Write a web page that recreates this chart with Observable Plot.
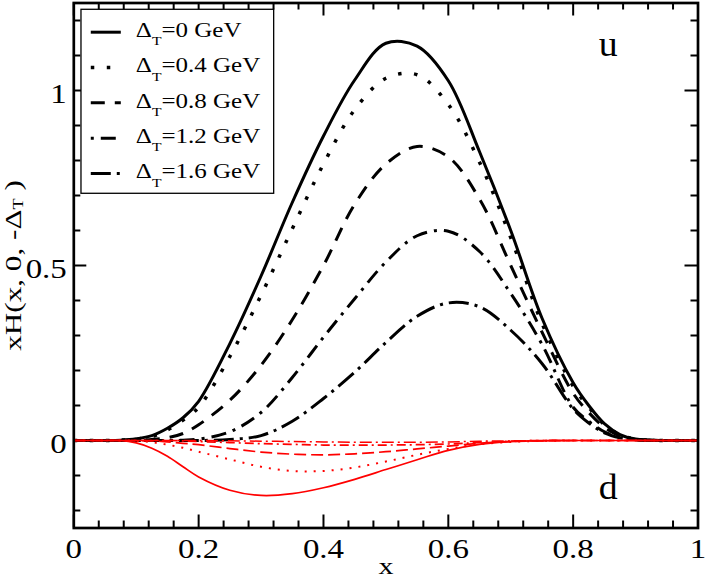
<!DOCTYPE html>
<html><head><meta charset="utf-8">
<script src="https://cdn.jsdelivr.net/npm/d3@7"></script>
<script src="https://cdn.jsdelivr.net/npm/@observablehq/plot@0.6"></script>
<style>body{margin:0;background:#fff} #chart svg{display:block}</style>
</head><body><div id="chart"></div>
<script>
// ---- data ----
const xs  = [0, 0.05, 0.075, 0.1, 0.125, 0.15, 0.175, 0.2, 0.25, 0.3, 0.35, 0.4, 0.45, 0.5, 0.55, 0.6, 0.65, 0.7, 0.75, 0.8, 0.825, 0.85, 0.875, 0.9, 0.95, 1];
// u quark
const u0  = [0, 0, 0.001, 0.005, 0.014, 0.035, 0.065, 0.112, 0.277, 0.47, 0.68, 0.87, 1.03, 1.135, 1.127, 1.028, 0.825, 0.60, 0.35, 0.165, 0.1, 0.048, 0.017, 0.004, 0, 0];
const u04 = [0, 0, 0.001, 0.004, 0.011, 0.03, 0.058, 0.095, 0.24, 0.415, 0.605, 0.79, 0.945, 1.035, 1.045, 0.96, 0.795, 0.58, 0.335, 0.155, 0.095, 0.045, 0.016, 0.004, 0, 0];
const u08 = [0, 0, 0, 0.001, 0.003, 0.008, 0.02, 0.045, 0.115, 0.215, 0.345, 0.50, 0.675, 0.79, 0.84, 0.81, 0.69, 0.50, 0.31, 0.135, 0.08, 0.038, 0.013, 0.003, 0, 0];
const u12 = [0, 0, 0, 0, 0, 0, 0.001, 0.004, 0.025, 0.08, 0.18, 0.295, 0.405, 0.51, 0.585, 0.598, 0.54, 0.42, 0.275, 0.095, 0.055, 0.025, 0.009, 0.002, 0, 0];
const u16 = [0, 0, 0, 0, 0, 0, 0, 0, 0.003, 0.014, 0.055, 0.12, 0.195, 0.28, 0.355, 0.393, 0.382, 0.315, 0.22, 0.09, 0.05, 0.022, 0.008, 0.002, 0, 0];
// d quark
const d0  = [0, 0, 0, -0.007, -0.022, -0.045, -0.075, -0.104, -0.142, -0.157, -0.152, -0.135, -0.111, -0.083, -0.055, -0.028, -0.011, -0.003, -0.001, 0, 0, 0, 0, 0, 0, 0];
const d04 = [0, 0, 0, -0.001, -0.005, -0.012, -0.021, -0.032, -0.054, -0.075, -0.087, -0.087, -0.077, -0.06, -0.041, -0.024, -0.011, -0.004, -0.001, 0, 0, 0, 0, 0, 0, 0];
const d08 = [0, 0, 0, 0, -0.001, -0.004, -0.008, -0.012, -0.023, -0.033, -0.039, -0.041, -0.038, -0.032, -0.024, -0.016, -0.008, -0.003, -0.001, 0, 0, 0, 0, 0, 0, 0];
const d12 = [0, 0, 0, 0, 0, 0, -0.001, -0.003, -0.006, -0.009, -0.011, -0.013, -0.013, -0.013, -0.012, -0.01, -0.006, -0.002, 0, 0, 0, 0, 0, 0, 0, 0];
const d16 = [0, 0, 0, 0, 0, 0, 0, 0, -0.001, -0.002, -0.003, -0.004, -0.005, -0.005, -0.005, -0.004, -0.002, -0.001, 0, 0, 0, 0, 0, 0, 0, 0];

const deltas = ["0", "0.4", "0.8", "1.2", "1.6"];
const xTicks = [0, 0.2, 0.4, 0.6, 0.8, 1];
const xMinor = [0.04, 0.08, 0.12, 0.16, 0.24, 0.28, 0.32, 0.36, 0.44, 0.48, 0.52, 0.56, 0.64, 0.68, 0.72, 0.76, 0.84, 0.88, 0.92, 0.96];
const yTicks = [0, 0.5, 1];
const yMinor = [-0.2, -0.1, 0.1, 0.2, 0.3, 0.4, 0.6, 0.7, 0.8, 0.9, 1.1, 1.2];
const xLabel = "x";
const yLabel = "xH(x, 0, -Δ_T )";

// ---- layout / styles ----
const W = 707, H = 578;
const mL = 73.3, mR = 9.5, mT = 2.5, mB = 50.5;
const iw = W - mL - mR, ih = H - mT - mB;
const FONT = "'Liberation Serif', 'Times New Roman', serif";

const uSeries = [u0, u04, u08, u12, u16];
const dSeries = [d0, d04, d08, d12, d16];
const rowsOf = ys => xs.map((x, i) => ({x, y: ys[i]}));

const blackStyle = [
  {dash: null, w: 3},
  {dash: "3.5,12.5", w: 3.5},
  {dash: "14,10", w: 3},
  {dash: "3,7,15,7", w: 3},
  {dash: "20,6,3,6", w: 3}
];
const redStyle = [
  {dash: null, w: 1.7},
  {dash: "2,7", w: 2},
  {dash: "12,5", w: 1.7},
  {dash: "9,4,2,4", w: 1.7},
  {dash: "12,4,2,4", w: 1.5}
];

const marks = [];
// inward ticks on all four sides
const MAJ = 13, MIN = 7;
marks.push(Plot.tickX(xTicks, {x: d => d, insetTop: ih - MAJ, stroke: "black", strokeWidth: 2}));
marks.push(Plot.tickX(xMinor, {x: d => d, insetTop: ih - MIN, stroke: "black", strokeWidth: 2}));
marks.push(Plot.tickX(xTicks, {x: d => d, insetBottom: ih - MAJ, stroke: "black", strokeWidth: 2}));
marks.push(Plot.tickX(xMinor, {x: d => d, insetBottom: ih - MIN, stroke: "black", strokeWidth: 2}));
marks.push(Plot.tickY(yTicks, {y: d => d, insetRight: iw - MAJ, stroke: "black", strokeWidth: 2}));
marks.push(Plot.tickY(yMinor, {y: d => d, insetRight: iw - MIN, stroke: "black", strokeWidth: 2}));
marks.push(Plot.tickY(yTicks, {y: d => d, insetLeft: iw - MAJ, stroke: "black", strokeWidth: 2}));
marks.push(Plot.tickY(yMinor, {y: d => d, insetLeft: iw - MIN, stroke: "black", strokeWidth: 2}));

// u curves (black) then d curves (red)
uSeries.forEach((ys, i) => {
  const s = blackStyle[i];
  marks.push(Plot.line(rowsOf(ys), {x: "x", y: "y", stroke: "black", strokeWidth: s.w,
    strokeDasharray: s.dash || undefined, strokeLinecap: "butt", curve: "catmull-rom"}));
});
dSeries.forEach((ys, i) => {
  const s = redStyle[i];
  marks.push(Plot.line(rowsOf(ys), {x: "x", y: "y", stroke: "#ff0000", strokeWidth: s.w,
    strokeDasharray: s.dash || undefined, strokeLinecap: "butt", curve: "catmull-rom"}));
});

// legend box (inside the plot, top-left)
marks.push(Plot.rect([0], {x1: 0.0123, x2: 0.321, y1: 0.7049, y2: 1.2306, fill: "white", stroke: "black", strokeWidth: 1.3}));
deltas.forEach((d, i) => {
  const s = blackStyle[i];
  const yy = 1.1666 - 0.1009 * i;
  marks.push(Plot.line([{x: 0.0272, y: yy}, {x: 0.0753, y: yy}], {x: "x", y: "y", stroke: "black",
    strokeWidth: s.w, strokeDasharray: s.dash || undefined, strokeLinecap: "butt"}));
});
marks.push(Plot.text(deltas, {x: 0.0994, y: (d, i) => 1.153 - 0.1009 * i, text: d => `Δ_T=${d} GeV`,
  textAnchor: "start", lineAnchor: "bottom", fontSize: 20, fontFamily: FONT, fill: "black"}));

// annotations u / d
marks.push(Plot.text(["u"], {x: 0.856, y: 1.1, text: d => d, lineAnchor: "bottom", fontSize: 36, fontFamily: FONT, fill: "black"}));
marks.push(Plot.text(["d"], {x: 0.856, y: -0.166, text: d => d, lineAnchor: "bottom", fontSize: 36, fontFamily: FONT, fill: "black"}));

// tick labels
marks.push(Plot.text(xTicks, {x: d => d, y: -0.25, dy: 29.5, text: d => String(d), lineAnchor: "bottom",
  fontSize: 27, fontFamily: FONT, fill: "black"}));
marks.push(Plot.text(yTicks, {x: 0, y: d => d, dx: -7, dy: 12, text: d => String(d), textAnchor: "end", lineAnchor: "bottom",
  fontSize: 27, fontFamily: FONT, fill: "black"}));

// axis titles
marks.push(Plot.text([xLabel], {frameAnchor: "bottom", dy: 46, text: d => d, textAnchor: "middle", lineAnchor: "bottom",
  fontSize: 24, fontFamily: FONT, fill: "black"}));
marks.push(Plot.text([yLabel], {frameAnchor: "left", dx: -53, rotate: -90, text: d => d, textAnchor: "middle", lineAnchor: "bottom",
  fontSize: 24, fontFamily: FONT, fill: "black"}));

marks.push(Plot.frame({stroke: "black", strokeWidth: 2.7}));

const svg = Plot.plot({
  width: W, height: H,
  marginLeft: mL, marginRight: mR, marginTop: mT, marginBottom: mB,
  x: {domain: [0, 1], axis: null},
  y: {domain: [-0.25, 1.25], axis: null},
  style: {background: "white", fontFamily: FONT, color: "black", overflow: "visible"},
  marks
});

// subscript "T" and horizontal glyph stretch, as in the original typesetting
const NS = "http://www.w3.org/2000/svg";
function subscript(t, subSize, shift) {
  const s = t.textContent; const k = s.indexOf("_T"); if (k < 0) return;
  t.textContent = "";
  const a = document.createElementNS(NS, "tspan"); a.textContent = s.slice(0, k); t.appendChild(a);
  const b = document.createElementNS(NS, "tspan"); b.textContent = "T";
  b.setAttribute("font-size", subSize); b.setAttribute("dy", shift); t.appendChild(b);
  const c = document.createElementNS(NS, "tspan"); c.textContent = s.slice(k + 2);
  c.setAttribute("dy", -shift); t.appendChild(c);
}
svg.querySelectorAll("text").forEach(t => {
  const s = t.textContent;
  let sx = 1.22;
  if (s.startsWith("xH")) { subscript(t, 14, 2.5); sx = 1.3; }
  else if (s.includes("GeV")) { subscript(t, 12.5, 8.5); sx = 1.25; }
  else if (s === "u" || s === "d") sx = 1.05;
  else if (s === "x") sx = 1.25;
  let tr = t.getAttribute("transform");
  if (!tr) {
    const x = parseFloat(t.getAttribute("x")) || 0;
    t.removeAttribute("x");
    tr = `translate(${x},0)`;
  }
  t.setAttribute("transform", tr + ` scale(${sx},1)`);
});

document.getElementById("chart").appendChild(svg);
</script>
</body></html>
